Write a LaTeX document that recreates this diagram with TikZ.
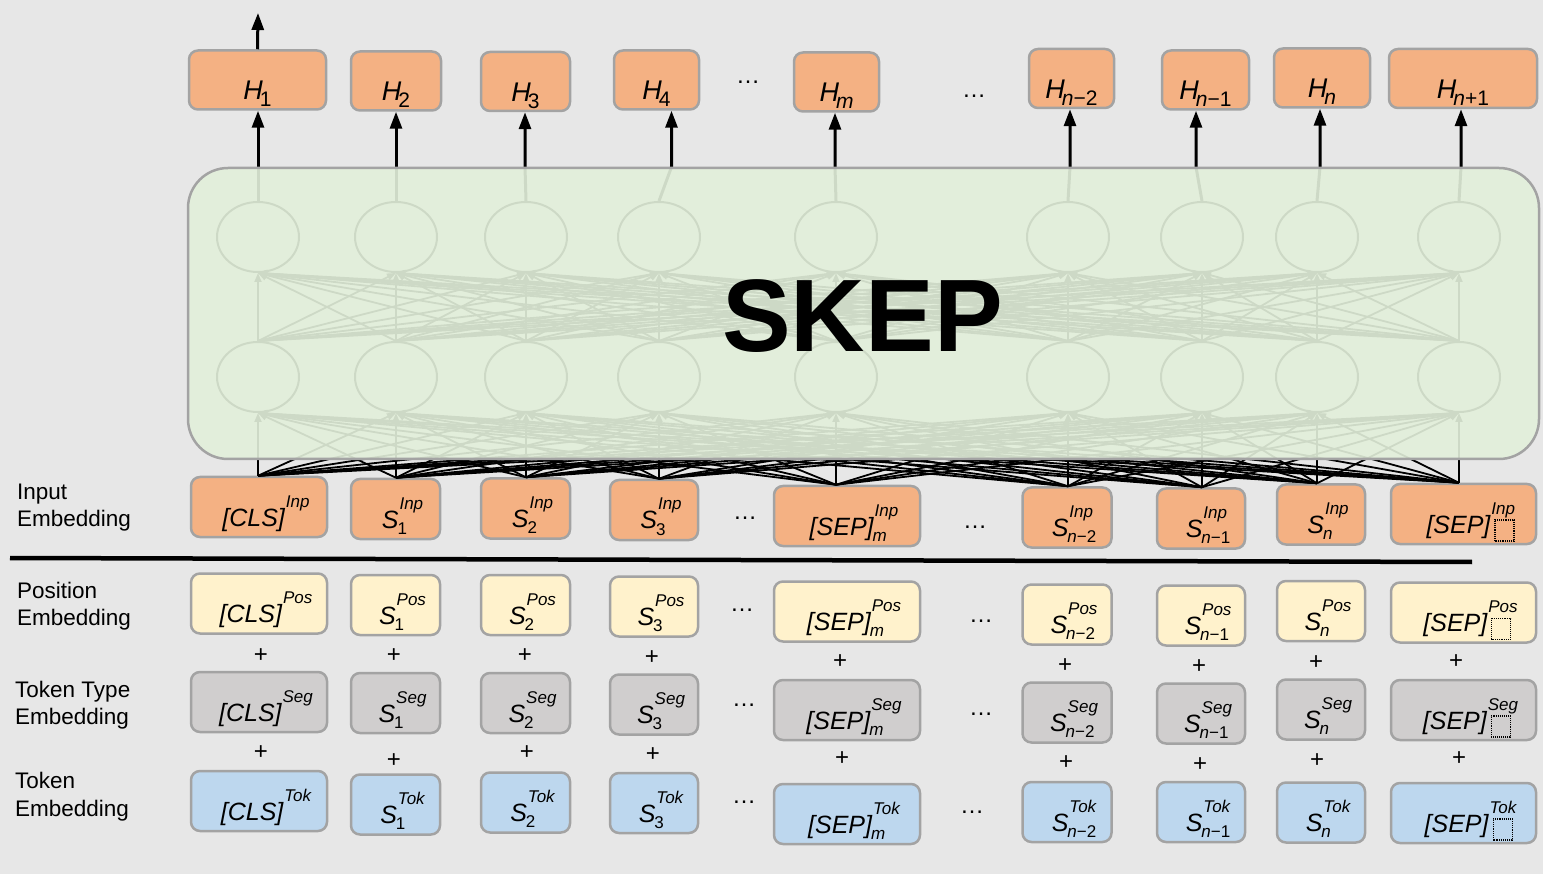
\documentclass[tikz,border=0pt]{standalone}
\usepackage{fontspec}
\setmainfont{Liberation Sans}
\usetikzlibrary{arrows.meta,shapes.geometric}
\definecolor{bgc}{HTML}{E7E7E7}
\definecolor{cinp}{HTML}{F4B183}
\definecolor{cpos}{HTML}{FFF2CC}
\definecolor{cseg}{HTML}{D0CECE}
\definecolor{ctok}{HTML}{BDD7EE}
\definecolor{cgreen}{HTML}{E2EFDA}
\definecolor{cborder}{HTML}{A3A3A3}
\newsavebox\supbox
\newsavebox\subbox
\newcommand\smallfnt{\fontsize{17}{17}\selectfont}
\newcommand\tok[3]{\hspace*{14pt}{\itshape #1}\kern-1pt\sbox\supbox{\smallfnt\itshape #3}\sbox\subbox{\smallfnt #2}\rlap{\kern2pt\raisebox{19pt}{\usebox\supbox}}\raisebox{-6pt}{\usebox\subbox}\ifdim\wd\supbox>\wd\subbox\kern\dimexpr\wd\supbox-\wd\subbox+2pt\relax\fi}
\newcommand\hlab[1]{{\itshape H}\kern-3pt\raisebox{-7pt}{\fontsize{21}{21}\selectfont #1}}
\newcommand\dsq{\kern5pt\tikz[baseline=2pt]\draw[draw=black,sharp corners,solid,densely dotted,line width=1.1pt] (0pt,0pt) rectangle (19pt,21pt);}
\newcommand\mkcol[9]{%
  \node[ebox,fill=cinp,minimum width=#3] (inp#1) at (#2,#6) {\tok{#4}{#5}{Inp}};
  \node[ebox,fill=cpos,minimum width=#3] (pos#1) at (#2,#7) {\tok{#4}{#5}{Pos}};
  \node[ebox,fill=cseg,minimum width=#3] (seg#1) at (#2,#8) {\tok{#4}{#5}{Seg}};
  \node[ebox,fill=ctok,minimum width=#3] (tok#1) at (#2,#9) {\tok{#4}{#5}{Tok}};
}
\tikzset{
 ebox/.style={draw=cborder, line width=2.5pt, rounded corners=9pt, inner sep=0pt, minimum height=60pt, text height=38pt, text depth=0pt, font=\fontsize{25}{25}\selectfont},
 hbox/.style={ebox, fill=cinp, minimum height=59pt, text height=40pt, font=\fontsize{27}{27}\selectfont},
 neuron/.style={ellipse, draw=black, line width=2pt, minimum width=82pt, minimum height=70pt, inner sep=0pt},
 netline/.style={line width=1.8pt, -{Triangle[length=9pt,width=7pt]}},
 bigarrow/.style={line width=3pt, -{Triangle[length=17pt,width=12pt]}},
 lab/.style={align=left, inner sep=0pt, anchor=west, font=\fontsize{22.5}{27.5}\selectfont},
 plus/.style={inner sep=0pt, font=\fontsize{24}{24}\selectfont},
 dotsym/.style={inner sep=0pt, font=\fontsize{24}{24}\selectfont},
 skepbox/.style={draw=cborder, line width=2.5pt, fill=cgreen, fill opacity=0.91, rounded corners=40pt, minimum width=1351pt, minimum height=291pt, inner sep=0pt},
}
\begin{document}
\begin{tikzpicture}[x=1pt,y=-1pt]
\useasboundingbox (0,0) rectangle (1543,874);
\fill[bgc] (0,0) rectangle (1543,874);

% output nodes
\node[hbox, minimum width=137] (h1) at (257.5,80) {\hlab{1}};
\node[hbox, minimum width=90] (h2) at (396,81) {\hlab{2}};
\node[hbox, minimum width=89] (h3) at (525.5,81.5) {\hlab{3}};
\node[hbox, minimum width=85] (h4) at (656.5,80) {\hlab{4}};
\node[hbox, minimum width=85] (h5) at (836.5,82) {\hlab{\itshape m}};
\node[hbox, minimum width=85] (h6) at (1071.5,78.5) {\hlab{{\itshape n}−2}};
\node[hbox, minimum width=87] (h7) at (1205.5,80) {\hlab{{\itshape n}−1}};
\node[hbox, minimum width=96] (h8) at (1322,78) {\hlab{\itshape n}};
\node[hbox, minimum width=148] (h9) at (1463,78.5) {\hlab{{\itshape n}+1}};

% embedding columns
\mkcol{1}{259}{136}{[CLS]}{}{507}{603.5}{702}{801}
\mkcol{2}{395.5}{89}{S}{1}{509}{605}{703}{804.5}
\mkcol{3}{525.5}{89}{S}{2}{508.5}{605}{703}{802.5}
\mkcol{4}{654}{88}{S}{3}{510}{606.5}{704.5}{803}
\mkcol{5}{847}{146}{[SEP]}{\itshape m}{516}{611.5}{710}{814}
\mkcol{6}{1067}{89}{S}{{\itshape n}−2}{517.5}{614.5}{712.5}{812}
\mkcol{7}{1201}{88}{S}{{\itshape n}−1}{518.5}{615.5}{713.5}{812}
\mkcol{8}{1321}{88}{S}{\itshape n}{514.5}{611}{709.5}{812.5}
\mkcol{9}{1463.5}{145}{[SEP]}{\dsq}{514}{612.5}{710}{813}

% hidden network
\foreach \i/\x in {1/258,2/396,3/526,4/659,5/836,6/1068,7/1202,8/1317,9/1459} {
  \node[neuron] (t\i) at (\x,237) {};
  \node[neuron] (b\i) at (\x,377) {};
}
\coordinate (boxtop) at (0,167);
\foreach \i in {1,...,9} {
  \foreach \j in {1,...,9} {
    \draw[netline] (inp\i.north -| b\i) -- (b\j.south);
    \draw[netline] (b\i.north) -- (t\j.south);
  }
}
\foreach \i/\o in {1/0.5,2/0,3/-0.5,4/15,5/-1.5,6/-1.5,7/-9.5,8/-2,9/-2} {
  \draw[bigarrow] (t\i.north) -- ([xshift=\o pt]h\i.south |- boxtop) -- ([xshift=\o pt]h\i.south);
}

% SKEP block
\node[skepbox] (skep) at (863.5,313.5) {};
\node[anchor=base, inner sep=0pt, font=\fontsize{103}{103}\selectfont\bfseries] (skeptxt) at (862.5,352) {SKEP};

\coordinate (hout) at (258,13);
\draw[bigarrow] (h1.north) -- (hout);

% separator
\draw[line width=4.5pt] (10,558) -- (1472,562);

% row labels
\node[lab] (lin) at (17,507.5) {Input\\Embedding};
\node[lab] (lpos) at (17,606) {Position\\Embedding};
\node[lab] (ltype) at (15,705) {Token Type\\Embedding};
\node[lab] (ltok) at (15,796.5) {Token\\Embedding};

% plus signs
\foreach \i/\x/\y in {1/261/656,2/394/656,3/525/656,4/652/658,5/840/662,6/1065/666,7/1199/667,8/1316/663,9/1456/662}
  \node[plus] (pa\i) at (\x,\y) {+};
\foreach \i/\x/\y in {1/261/753,2/394/761,3/527/753,4/653/755,5/842/759,6/1066/763,7/1200/765,8/1317/761,9/1459/759}
  \node[plus] (pb\i) at (\x,\y) {+};

% ellipses
\foreach \k/\x/\y in {1/748/82,2/974/96,3/745/518,4/975/527,5/742/610,6/981/621,7/744/705,8/981/714,9/744/802,10/972/812}
  \node[dotsym] (dd\k) at (\x,\y) {…};
\end{tikzpicture}
\end{document}
